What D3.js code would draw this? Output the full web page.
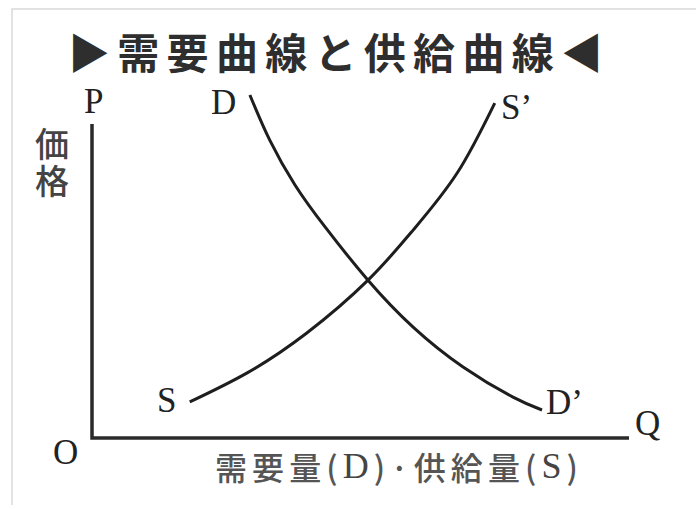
<!DOCTYPE html>
<html>
<head>
<meta charset="utf-8">
<script src="https://cdn.jsdelivr.net/npm/d3@7"></script>
<style>
  html, body { margin: 0; padding: 0; background: #fff; }
  .serif { font-family: "Liberation Serif", "DejaVu Serif", serif; fill: #222; }
  .cjk { font-family: "Noto Sans CJK JP", "Noto Sans CJK SC", sans-serif; }
</style>
</head>
<body>
<div id="chart"></div>
<script>
// Demand curve D -> D' (quantity, price) on a 0-100 scale
const demandQ = [29.4, 33.1, 37.8, 43.4, 51.4, 59.8, 69.1, 78.4, 83.8];
const demandP = [98.0, 85.1, 72.3, 60.3, 45.1, 31.7, 20.3, 11.7, 8.0];

// Supply curve S -> S'
const supplyQ = [18.2, 28.9, 40.0, 51.4, 59.8, 68.0, 75.0];
const supplyP = [10.3, 18.6, 30.0, 45.1, 59.4, 75.7, 95.7];

// Labels
const titleText = "▶需要曲線と供給曲線◀";
const yLabelText = "価格";
// x label pieces: [text, isSerif]
const xLabelParts = [["需要量(", false], ["D", true], [")·供給量(", false], ["S", true], [")", false]];

const width = 696, height = 509;

const svg = d3.select("#chart")
    .append("svg")
    .attr("width", width)
    .attr("height", height);

// Faint frame of the scanned figure
svg.append("path")
    .attr("d", "M696,9 H12 V505")
    .attr("fill", "none")
    .attr("stroke", "#e2e2e2")
    .attr("stroke-width", 2);

// Scales: axis origin at (92, 438)
const x = d3.scaleLinear().domain([0, 100]).range([92, 629]);
const y = d3.scaleLinear().domain([0, 100]).range([438, 88]);

// Title
svg.append("text")
    .attr("class", "cjk")
    .attr("x", 68)
    .attr("y", 50)
    .attr("dominant-baseline", "central")
    .attr("textLength", 535)
    .attr("lengthAdjust", "spacing")
    .style("font-size", "42px")
    .style("font-weight", 700)
    .style("fill", "#2e2e2e")
    .text(titleText);

// Axes (L shape)
svg.append("path")
    .attr("d", `M${x(0)},${y(89.7)} V${y(0)} H${x(100)}`)
    .attr("fill", "none")
    .attr("stroke", "#2a2a2a")
    .attr("stroke-width", 3.5);

// Curves
const line = d3.line()
    .x(d => x(d[0]))
    .y(d => y(d[1]))
    .curve(d3.curveNatural);

svg.append("path")
    .datum(d3.zip(demandQ, demandP))
    .attr("d", line)
    .attr("fill", "none")
    .attr("stroke", "#1e1e1e")
    .attr("stroke-width", 3);

svg.append("path")
    .datum(d3.zip(supplyQ, supplyP))
    .attr("d", line)
    .attr("fill", "none")
    .attr("stroke", "#1e1e1e")
    .attr("stroke-width", 3);

// Letter labels (serif)
const letters = [
    { t: "P", x: 84, y: 113 },
    { t: "D", x: 211, y: 114 },
    { t: "S’", x: 501, y: 119 },
    { t: "S", x: 157, y: 412 },
    { t: "D’", x: 546, y: 414 },
    { t: "Q", x: 635, y: 435 },
    { t: "O", x: 53, y: 464 }
];
svg.selectAll(".letter")
    .data(letters)
    .enter()
    .append("text")
    .attr("class", "serif letter")
    .attr("x", d => d.x)
    .attr("y", d => d.y)
    .style("font-size", "35px")
    .text(d => d.t);

// Vertical axis label, written top to bottom
svg.append("text")
    .attr("class", "cjk")
    .attr("x", 52)
    .attr("y", 127)
    .style("writing-mode", "vertical-rl")
    .style("font-size", "34px")
    .style("letter-spacing", "3px")
    .style("font-weight", 500)
    .style("fill", "#444")
    .text(yLabelText);

// Horizontal axis label
const xLab = svg.append("text")
    .attr("class", "cjk")
    .attr("x", 215)
    .attr("y", 466)
    .attr("dominant-baseline", "central")
    .attr("textLength", 363)
    .attr("lengthAdjust", "spacing")
    .style("font-size", "32px")
    .style("font-weight", 500)
    .style("fill", "#555");

xLab.selectAll("tspan")
    .data(xLabelParts)
    .enter()
    .append("tspan")
    .style("font-family", d => d[1] ? "'Liberation Serif', serif" : null)
    .style("font-size", d => d[1] ? "36px" : null)
    .style("fill", d => d[1] ? "#444" : null)
    .text(d => d[0]);
</script>
</body>
</html>
